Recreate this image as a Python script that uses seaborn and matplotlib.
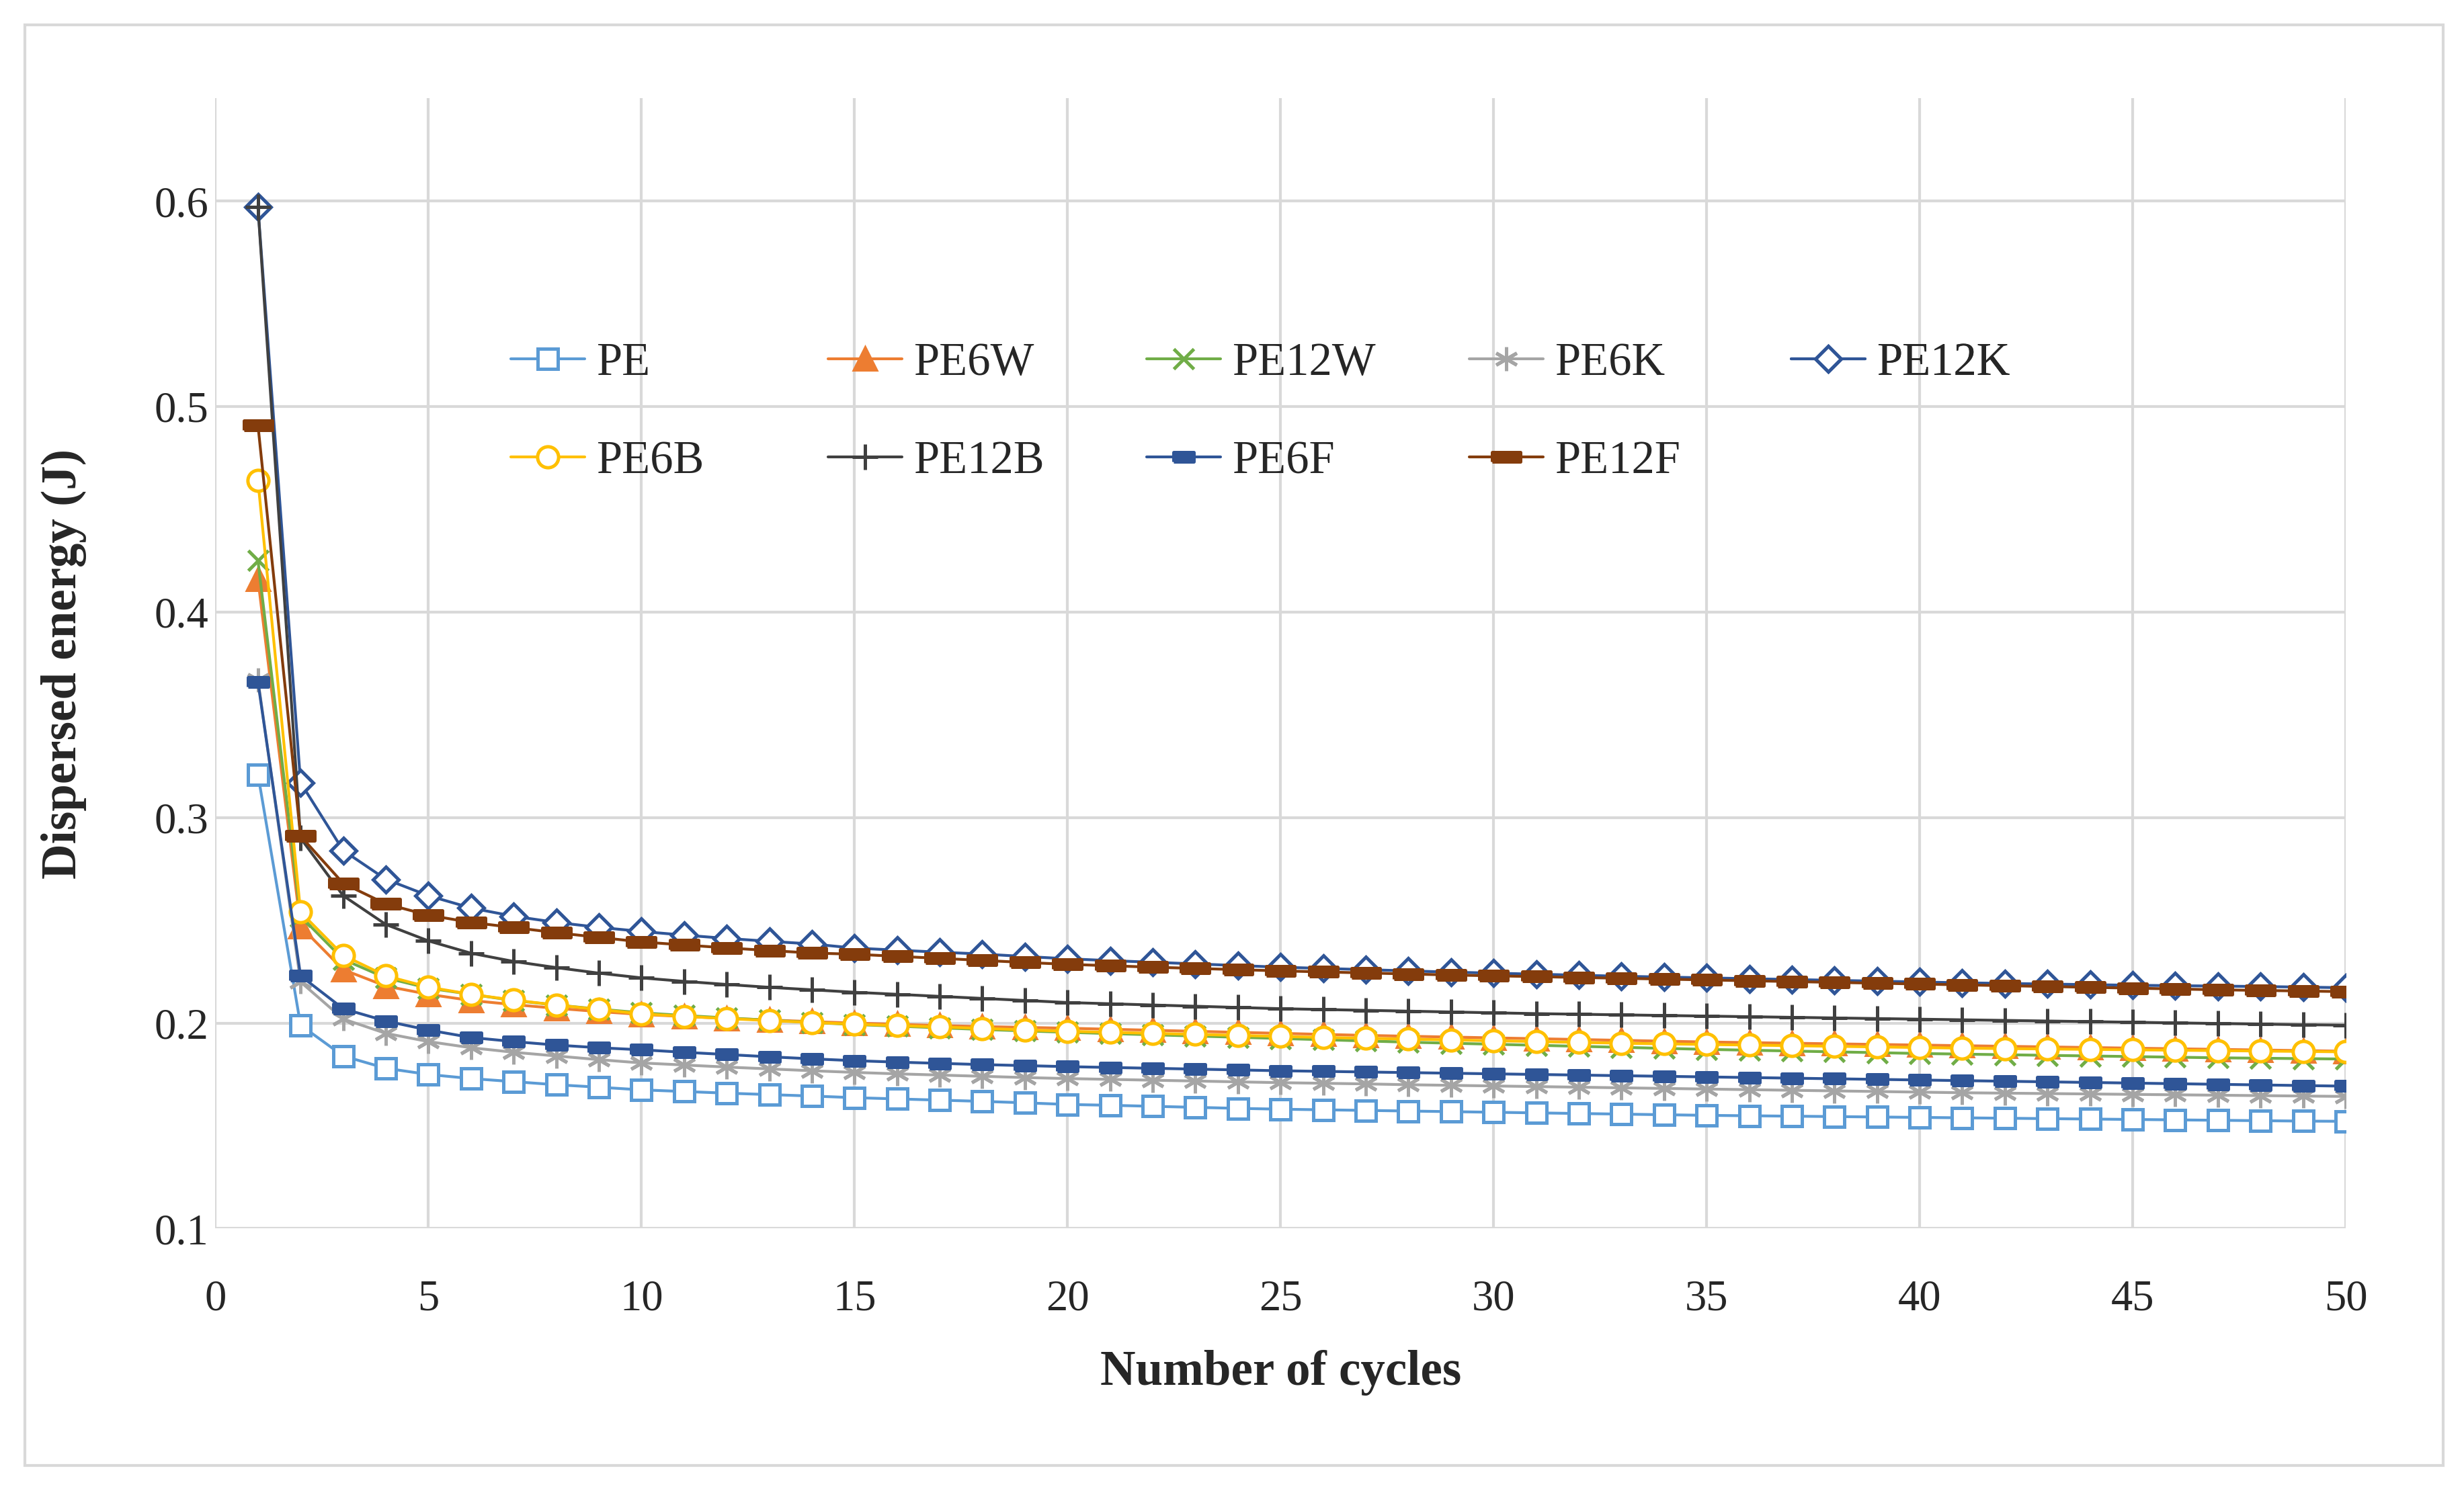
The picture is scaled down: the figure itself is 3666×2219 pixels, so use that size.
import numpy as np
import pandas as pd
import matplotlib
matplotlib.use("Agg")
import matplotlib.pyplot as plt
import seaborn as sns
from matplotlib.patches import Rectangle

cycles = list(range(1, 51))

pe = [0.321, 0.199, 0.184, 0.178, 0.175, 0.173, 0.1715, 0.170, 0.1688, 0.1675,
      0.1667, 0.1659, 0.1652, 0.1645, 0.1637, 0.1631, 0.1625, 0.1619, 0.1612, 0.1604,
      0.1600, 0.1595, 0.1590, 0.1585, 0.1581, 0.1578, 0.1575, 0.1572, 0.1569, 0.1566,
      0.1563, 0.1560, 0.1557, 0.1554, 0.1551, 0.1549, 0.1547, 0.1545, 0.1543, 0.1541,
      0.1539, 0.1537, 0.1535, 0.1533, 0.1531, 0.1529, 0.1527, 0.1525, 0.1523, 0.1522]
pe6w = [0.416, 0.247, 0.226, 0.218, 0.214, 0.211, 0.2090, 0.2072, 0.2056, 0.2042,
        0.2032, 0.2023, 0.2015, 0.2007, 0.2000, 0.1994, 0.1988, 0.1983, 0.1979, 0.1975,
        0.1970, 0.1965, 0.1960, 0.1955, 0.1950, 0.1945, 0.1940, 0.1936, 0.1932, 0.1928,
        0.1924, 0.1920, 0.1916, 0.1912, 0.1908, 0.1905, 0.1902, 0.1899, 0.1896, 0.1893,
        0.1890, 0.1887, 0.1884, 0.1881, 0.1878, 0.1875, 0.1872, 0.1869, 0.1866, 0.1863]
pe12w = [0.425, 0.252, 0.231, 0.222, 0.217, 0.214, 0.2110, 0.2088, 0.2068, 0.2050,
         0.2037, 0.2025, 0.2014, 0.2003, 0.1993, 0.1985, 0.1977, 0.1969, 0.1962, 0.1955,
         0.1949, 0.1943, 0.1937, 0.1931, 0.1925, 0.1919, 0.1913, 0.1907, 0.1902, 0.1897,
         0.1892, 0.1887, 0.1882, 0.1877, 0.1872, 0.1868, 0.1864, 0.1860, 0.1856, 0.1852,
         0.1849, 0.1846, 0.1843, 0.1840, 0.1837, 0.1834, 0.1831, 0.1829, 0.1827, 0.1825]
pe6k = [0.367, 0.220, 0.202, 0.195, 0.191, 0.188, 0.1858, 0.1840, 0.1822, 0.1806,
        0.1796, 0.1786, 0.1777, 0.1768, 0.1760, 0.1753, 0.1747, 0.1741, 0.1735, 0.1730,
        0.1726, 0.1722, 0.1718, 0.1714, 0.1710, 0.1707, 0.1704, 0.1700, 0.1697, 0.1694,
        0.1691, 0.1688, 0.1685, 0.1682, 0.1679, 0.1676, 0.1673, 0.1670, 0.1667, 0.1664,
        0.1661, 0.1659, 0.1657, 0.1655, 0.1653, 0.1651, 0.1649, 0.1647, 0.1645, 0.1643]
pe12k = [0.597, 0.317, 0.284, 0.270, 0.262, 0.256, 0.2520, 0.2490, 0.2466, 0.2446,
         0.2428, 0.2412, 0.2398, 0.2385, 0.2365, 0.2355, 0.2345, 0.2336, 0.2324, 0.2313,
         0.2304, 0.2296, 0.2288, 0.2280, 0.2272, 0.2266, 0.2260, 0.2254, 0.2248, 0.2243,
         0.2238, 0.2233, 0.2228, 0.2224, 0.2220, 0.2216, 0.2212, 0.2208, 0.2204, 0.2200,
         0.2196, 0.2193, 0.2190, 0.2187, 0.2184, 0.2182, 0.2180, 0.2178, 0.2175, 0.2172]
pe6b = [0.464, 0.254, 0.233, 0.223, 0.2175, 0.214, 0.2112, 0.2088, 0.2066, 0.2045,
        0.2033, 0.2022, 0.2012, 0.2003, 0.1995, 0.1988, 0.1981, 0.1974, 0.1967, 0.1960,
        0.1955, 0.1950, 0.1945, 0.1940, 0.1935, 0.1930, 0.1926, 0.1922, 0.1918, 0.1914,
        0.1910, 0.1906, 0.1902, 0.1899, 0.1896, 0.1893, 0.1890, 0.1887, 0.1884, 0.1881,
        0.1878, 0.1876, 0.1874, 0.1872, 0.1870, 0.1868, 0.1866, 0.1864, 0.1862, 0.1860]
pe12b = [0.597, 0.290, 0.262, 0.248, 0.240, 0.234, 0.2300, 0.2270, 0.2243, 0.2220,
         0.2203, 0.2188, 0.2174, 0.2162, 0.2150, 0.2140, 0.2130, 0.2120, 0.2110, 0.2100,
         0.2094, 0.2088, 0.2082, 0.2076, 0.2070, 0.2066, 0.2062, 0.2058, 0.2054, 0.2050,
         0.2046, 0.2043, 0.2040, 0.2037, 0.2034, 0.2031, 0.2028, 0.2025, 0.2022, 0.2019,
         0.2016, 0.2013, 0.2010, 0.2007, 0.2004, 0.2001, 0.1998, 0.1995, 0.1992, 0.1990]
pe6f = [0.366, 0.223, 0.207, 0.201, 0.1966, 0.193, 0.1910, 0.1893, 0.1880, 0.1870,
        0.1858, 0.1847, 0.1836, 0.1826, 0.1817, 0.1810, 0.1804, 0.1798, 0.1793, 0.1788,
        0.1784, 0.1780, 0.1776, 0.1772, 0.1768, 0.1765, 0.1762, 0.1759, 0.1756, 0.1753,
        0.1750, 0.1747, 0.1744, 0.1741, 0.1738, 0.1735, 0.1732, 0.1729, 0.1726, 0.1723,
        0.1720, 0.1717, 0.1714, 0.1711, 0.1708, 0.1705, 0.1702, 0.1699, 0.1696, 0.1693]
pe12f = [0.491, 0.291, 0.268, 0.258, 0.2525, 0.249, 0.2465, 0.2440, 0.2417, 0.2395,
         0.2380, 0.2366, 0.2353, 0.2341, 0.2335, 0.2325, 0.2315, 0.2305, 0.2295, 0.2286,
         0.2279, 0.2272, 0.2266, 0.2260, 0.2254, 0.2249, 0.2244, 0.2239, 0.2234, 0.2230,
         0.2226, 0.2222, 0.2218, 0.2214, 0.2210, 0.2206, 0.2202, 0.2198, 0.2194, 0.2190,
         0.2186, 0.2182, 0.2178, 0.2174, 0.2170, 0.2166, 0.2162, 0.2159, 0.2156, 0.2153]

labels = ["PE", "PE6W", "PE12W", "PE6K", "PE12K", "PE6B", "PE12B", "PE6F", "PE12F"]
values = [pe, pe6w, pe12w, pe6k, pe12k, pe6b, pe12b, pe6f, pe12f]

# excel-ish palette
colors = ["#5B9BD5", "#ED7D31", "#70AD47", "#A5A5A5", "#2F5597",
          "#FFC000", "#404040", "#2F5597", "#843C0C"]
small_bar = [(-1, -0.45), (1, -0.45), (1, 0.45), (-1, 0.45), (-1, -0.45)]
wide_bar = [(-1, -0.32), (1, -0.32), (1, 0.32), (-1, 0.32), (-1, -0.32)]
markers = ["s", "^", "x", (6, 2, 0), "D", "o", "+", small_bar, wide_bar]
msizes = [7, 7.5, 7, 8.5, 6.5, 7.5, 9, 7, 10]
open_marker = [True, False, False, False, True, True, False, False, False]

sns.set_style("white")
plt.rcParams["font.family"] = ["Liberation Serif", "DejaVu Serif"]

fig, ax = plt.subplots(figsize=(12.22, 7.397), dpi=300)
fig.subplots_adjust(left=0.0874, right=0.952, top=0.934, bottom=0.176)

df = pd.DataFrame({"cycle": cycles})
for lab, vals, col, mk, ms, op in zip(labels, values, colors, markers, msizes, open_marker):
    df[lab] = vals
    sns.lineplot(data=df, x="cycle", y=lab, ax=ax, color=col, linewidth=1.0,
                 marker=mk, markersize=ms, markeredgewidth=1.2,
                 markeredgecolor=col, markerfacecolor="white" if op else col,
                 label=lab, legend=False)

ax.set_xlim(0, 50)
ax.set_ylim(0.1, 0.65)
ax.set_xticks(np.arange(0, 51, 5))
ax.set_yticks([0.1, 0.2, 0.3, 0.4, 0.5, 0.6])
ax.set_yticklabels(["0.1", "0.2", "0.3", "0.4", "0.5", "0.6"])
ax.grid(True, color="#D9D9D9", linewidth=1.0)
ax.set_axisbelow(True)
for s in ax.spines.values():
    s.set_visible(False)
ax.tick_params(axis="both", length=0, labelsize=15.5, colors="#262626")
ax.tick_params(axis="x", pad=18)
ax.tick_params(axis="y", pad=2.5)

ax.set_xlabel("Number of cycles", fontsize=17.5, fontweight="bold", labelpad=11)
ax.set_ylabel("Dispersed energy (J)", fontsize=17.5, fontweight="bold", labelpad=24)

# legend laid out column by column like the excel one
handles, labs = ax.get_legend_handles_labels()
lookup = dict(zip(labs, handles))
columns = [["PE", "PE6B"], ["PE6W", "PE12B"], ["PE12W", "PE6F"], ["PE6K", "PE12F"], ["PE12K"]]
col_x = [0.1386, 0.2876, 0.437, 0.5885, 0.7397]
for names, cx in zip(columns, col_x):
    leg = ax.legend([lookup[n] for n in names], names, loc="upper left",
                    bbox_to_anchor=(cx, 0.784), frameon=False, fontsize=16.5,
                    handlelength=1.6, handletextpad=0.25, labelspacing=1.2,
                    borderpad=0, borderaxespad=0, numpoints=1)
    ax.add_artist(leg)

fig.patches.append(Rectangle((0.0101, 0.0171), 0.9814, 0.9662, transform=fig.transFigure,
                             fill=False, edgecolor="#D9D9D9", linewidth=1.0))

fig.savefig("out.png", dpi=300, facecolor="white")
